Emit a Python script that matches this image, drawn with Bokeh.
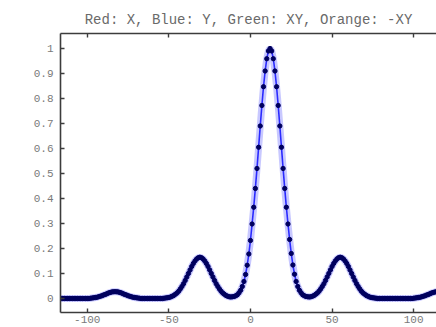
from bokeh.plotting import figure
from bokeh.models import LinearAxis, FixedTicker, Range1d, ColumnDataSource
from bokeh.embed import file_html
from bokeh.resources import INLINE

title_text = "Red: X, Blue: Y, Green: XY, Orange: -XY"

x_start = -120
y_values = (
    [0.0] * 22 +
    [0.001, 0.002, 0.003, 0.004, 0.005, 0.007, 0.009, 0.011, 0.014, 0.016,
     0.019, 0.022, 0.024, 0.026, 0.027, 0.027, 0.027, 0.026, 0.024, 0.022,
     0.019, 0.016, 0.014, 0.011, 0.009, 0.007, 0.005, 0.004, 0.003, 0.002,
     0.001] +
    [0.0] * 14 +
    [0.001, 0.002, 0.003, 0.004, 0.006, 0.009, 0.012, 0.017, 0.022, 0.029,
     0.038, 0.048, 0.059, 0.072, 0.086, 0.100, 0.114, 0.128, 0.140, 0.150,
     0.158, 0.163, 0.165, 0.163, 0.158, 0.150, 0.140, 0.128, 0.114, 0.100,
     0.086, 0.072, 0.059, 0.048, 0.038, 0.029, 0.022, 0.017, 0.012, 0.009,
     0.007, 0.006, 0.007, 0.008, 0.011, 0.015, 0.023, 0.033, 0.048, 0.068,
     0.096, 0.133, 0.178, 0.232, 0.298, 0.365, 0.440, 0.520, 0.605, 0.690,
     0.772, 0.847, 0.910, 0.959, 0.990, 1.000, 0.990, 0.959, 0.910, 0.847,
     0.772, 0.690, 0.605, 0.520, 0.440, 0.365, 0.298, 0.236, 0.180, 0.134,
     0.097, 0.068, 0.048, 0.033, 0.023, 0.015, 0.011, 0.008, 0.007, 0.006,
     0.007, 0.009, 0.012, 0.017, 0.022, 0.029, 0.038, 0.048, 0.059, 0.072,
     0.086, 0.100, 0.114, 0.128, 0.140, 0.150, 0.158, 0.163, 0.165, 0.163,
     0.158, 0.150, 0.140, 0.128, 0.114, 0.100, 0.086, 0.072, 0.059, 0.048,
     0.038, 0.029, 0.022, 0.017, 0.012, 0.009, 0.006, 0.004, 0.003, 0.002,
     0.001] +
    [0.0] * 22 +
    [0.001, 0.002, 0.003, 0.004, 0.005, 0.007, 0.009, 0.011, 0.014, 0.016,
     0.019, 0.022, 0.024, 0.026, 0.027, 0.027, 0.027, 0.026, 0.024, 0.022,
     0.019]
)
x_values = list(range(x_start, x_start + len(y_values)))

x_ticks = [-100, -50, 0, 50, 100]
x_tick_labels = ["-100", "-50", "0", "50", "100"]
y_ticks = [0, 0.1, 0.2, 0.3, 0.4, 0.5, 0.6, 0.7, 0.8, 0.9, 1]
y_tick_labels = ["0", "0.1", "0.2", "0.3", "0.4", "0.5", "0.6", "0.7", "0.8", "0.9", "1"]

src = ColumnDataSource(dict(x=x_values, y=y_values))

p = figure(width=436, height=327, output_backend="svg", toolbar_location=None,
           x_range=Range1d(-116.4, 114.0), y_range=Range1d(-0.056, 1.06),
           min_border_left=60, min_border_right=0, min_border_bottom=15,
           min_border_top=33)
p.title.text = title_text
p.title.align = "center"
p.title.text_font = "Liberation Mono"
p.title.text_font_size = "14px"
p.title.text_font_style = "normal"
p.title.text_color = "#6a6a6a"
p.title.offset = 0
p.title.standoff = 12
p.outline_line_color = None
p.xgrid.visible = False
p.ygrid.visible = False

# halo + line + markers
p.line("x", "y", source=src, line_color="#9a9aff", line_width=7, line_alpha=0.55)
p.line("x", "y", source=src, line_color="#2a2aff", line_width=1.6)
p.scatter("x", "y", source=src, size=4.3, color="#00005e", marker="circle")

def style(ax, labels=True):
    ax.axis_line_color = "#3c3c3c"
    ax.axis_line_width = 1.6
    ax.major_tick_line_color = "#3c3c3c"
    ax.major_tick_line_width = 1.4
    ax.major_tick_in = 4
    ax.major_tick_out = 0
    ax.minor_tick_line_color = None
    ax.major_label_text_font = "Liberation Mono"
    ax.major_label_text_font_size = "11px" if labels else "0px"
    ax.major_label_text_color = "#7a7a7a"
    ax.axis_label_standoff = 0

xa = p.xaxis[0]
xa.ticker = FixedTicker(ticks=x_ticks)
xa.major_label_overrides = dict(zip(x_ticks, x_tick_labels))
xa.major_label_standoff = 3
style(xa)

ya = p.yaxis[0]
ya.ticker = FixedTicker(ticks=y_ticks)
ya.major_label_overrides = dict(zip(y_ticks, y_tick_labels))
ya.major_label_standoff = 7
style(ya)

top = LinearAxis(ticker=FixedTicker(ticks=x_ticks))
top.major_label_overrides = {t: "" for t in x_ticks}
top.major_label_standoff = 0
style(top, labels=False)
p.add_layout(top, "above")

open("out.html", "w").write(file_html(p, INLINE))
